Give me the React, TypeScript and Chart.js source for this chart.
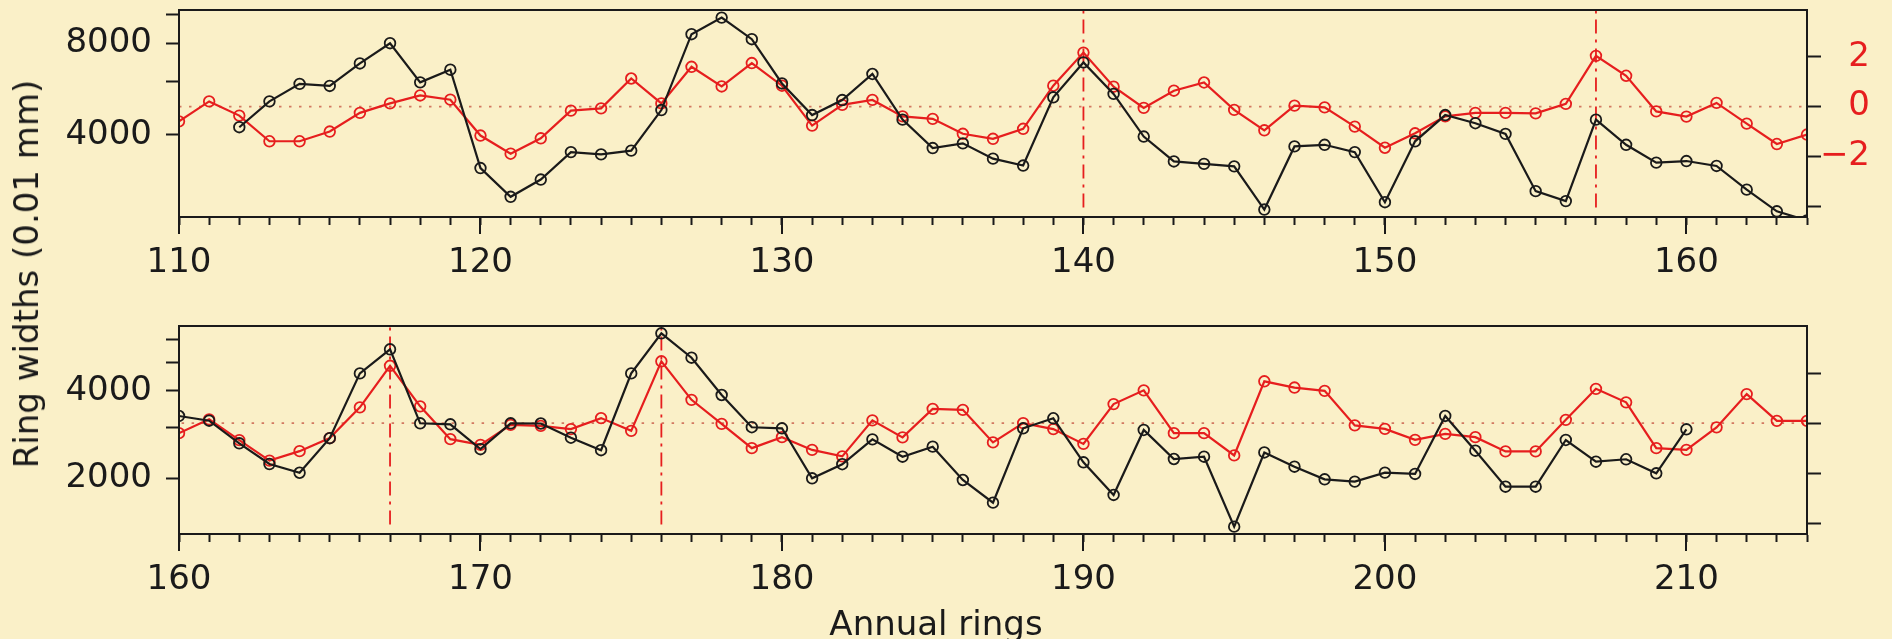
import React, { useEffect, useRef } from 'react';
import { Chart, registerables } from 'chart.js';

Chart.register(...registerables);

// ---------------- data ----------------
// Ring widths (0.01 mm), black series, one value per annual ring starting at RING_START
const RING_START = 112;
const RING_WIDTHS = [
  4240, 5160, 5890, 5800, 6880, 8020, 5960, 6560, 3110, 2500, // 112-121
  2850, 3510, 3450, 3550, 4830, 8590, 9740, 8270, 5910, 4650, // 122-131
  5210, 6350, 4490, 3620, 3750, 3340, 3170, 5320, 6930, 5460, // 132-141
  3950, 3270, 3210, 3150, 2270, 3665, 3710, 3510, 2400, 3810, // 142-151
  4650, 4370, 4030, 2610, 2420, 4490, 3710, 3240, 3280, 3160, // 152-161
  2640, 2240, 2090, 2750, 4600, 5570, 3095, 3070, 2520, 3095, // 162-171
  3090, 2760, 2500, 4600, 6325, 5210, 3875, 3000, 2975, 2000, // 172-181
  2236, 2725, 2374, 2571, 1973, 1648, 2975, 3221, 2271, 1752, // 182-191
  2935, 2331, 2374, 1362, 2455, 2193, 1984, 1947, 2092, 2070, // 192-201
  3281, 2490, 1871, 1871, 2711, 2282, 2326, 2081, 2951,       // 202-210
];

// Standardised index (right axis), red series, starting at INDEX_START
const INDEX_START = 110;
const INDEX_VALUES = [
  -0.59, 0.21, -0.36, -1.39, -1.39, -1.0, -0.25, 0.13, 0.45, 0.28, // 110-119
  -1.16, -1.89, -1.27, -0.16, -0.07, 1.13, 0.13, 1.6, 0.81, 1.75, // 120-129
  0.84, -0.76, 0.07, 0.27, -0.39, -0.49, -1.09, -1.29, -0.89, 0.84, // 130-139
  2.17, 0.8, -0.05, 0.64, 0.97, -0.13, -0.95, 0.04, -0.03, -0.8, // 140-149
  -1.65, -1.07, -0.39, -0.25, -0.25, -0.27, 0.11, 2.04, 1.24, -0.19, // 150-159
  -0.4, 0.15, -0.68, -1.5, -1.12, -0.6, 0.63, 2.29, 0.67, -0.64, // 160-169
  -0.87, -0.07, -0.11, -0.24, 0.2, -0.31, 2.47, 0.93, -0.03, -1.0, // 170-179
  -0.56, -1.07, -1.33, 0.11, -0.57, 0.57, 0.53, -0.77, 0.0, -0.24, // 180-189
  -0.83, 0.76, 1.31, -0.4, -0.4, -1.29, 1.67, 1.42, 1.29, -0.09, // 190-199
  -0.23, -0.67, -0.43, -0.56, -1.13, -1.13, 0.13, 1.37, 0.83, -1.0, // 200-209
  -1.07, -0.17, 1.16, 0.09, 0.09, // 210-214
];

// Pointer years marked by dash-dot vertical lines
const EVENT_YEARS = [140, 157, 167, 176];

// Axis ticks
const TOP_LEFT_TICKS = [4000, 6000, 8000, 10000];
const TOP_LEFT_LABELS = ['4000', '', '8000', ''];
const BOTTOM_LEFT_TICKS = [2000, 3000, 4000, 5000, 6000];
const BOTTOM_LEFT_LABELS = ['2000', '', '4000', '', ''];
const RIGHT_TICKS = [-4, -2, 0, 2];
const TOP_RIGHT_LABELS = ['', '\u22122', '0', '2'];
const BOTTOM_RIGHT_LABELS = ['', '', '', ''];

// ---------------- styling ----------------
const BG = '#FAF0C8';
const RED = '#E61E1E';
const INK = '#1a1a1a';
const FONT = "'DejaVu Sans', sans-serif";

const range = (a: number, b: number) => Array.from({ length: b - a + 1 }, (_, i) => a + i);

interface Panel {
  xMin: number;
  xMax: number;
  yMin: number;
  yMax: number;
  leftTicks: number[];
  leftLabels: string[];
  rightLabels: string[];
  padTop: number;
  xAxisHeight: number;
}

const TOP_PANEL: Panel = {
  xMin: 110, xMax: 164, yMin: 2145, yMax: 10320,
  leftTicks: TOP_LEFT_TICKS, leftLabels: TOP_LEFT_LABELS, rightLabels: TOP_RIGHT_LABELS,
  padTop: 10, xAxisHeight: 83,
};
const BOTTOM_PANEL: Panel = {
  xMin: 160, xMax: 214, yMin: 1285, yMax: 6702,
  leftTicks: BOTTOM_LEFT_TICKS, leftLabels: BOTTOM_LEFT_LABELS, rightLabels: BOTTOM_RIGHT_LABELS,
  padTop: 26, xAxisHeight: 105,
};
const R_MIN = -4.43;
const R_MAX = 3.88;

const framePlugin = {
  id: 'frame',
  afterDraw(chart: any) {
    const { ctx, chartArea } = chart;
    const xs = chart.scales.x;
    ctx.save();
    ctx.strokeStyle = INK;
    ctx.lineWidth = 2;
    ctx.strokeRect(chartArea.left, chartArea.top, chartArea.right - chartArea.left, chartArea.bottom - chartArea.top);
    // longer tick marks at the labelled (major) positions
    xs.ticks.forEach((t: any) => {
      if (t.value % 10 === 0) {
        const px = Math.round(xs.getPixelForValue(t.value));
        ctx.beginPath();
        ctx.moveTo(px, chartArea.bottom);
        ctx.lineTo(px, chartArea.bottom + 17);
        ctx.stroke();
      }
    });
    ctx.restore();
  },
};

function buildChart(canvas: HTMLCanvasElement, p: Panel) {
  const black = RING_WIDTHS.map((v, i) => ({ x: RING_START + i, y: v }));
  const red = INDEX_VALUES.map((v, i) => ({ x: INDEX_START + i, y: v }));
  const indexEnd = INDEX_START + INDEX_VALUES.length - 1;

  const datasets: any[] = [
    {
      label: 'Ring widths', data: black, yAxisID: 'y',
      borderColor: INK, borderWidth: 2.2, tension: 0,
      pointRadius: 5.3, pointBorderWidth: 1.8, pointBorderColor: INK,
      pointBackgroundColor: 'rgba(0,0,0,0)', clip: 0,
    },
    {
      label: 'Index', data: red, yAxisID: 'y1',
      borderColor: RED, borderWidth: 2.2, tension: 0,
      pointRadius: 5.3, pointBorderWidth: 1.8, pointBorderColor: RED,
      pointBackgroundColor: 'rgba(0,0,0,0)', clip: 0,
    },
    ...EVENT_YEARS.map((yr) => ({
      label: 'event ' + yr, data: [{ x: yr, y: -4.05 }, { x: yr, y: 4 }], yAxisID: 'y1',
      borderColor: RED, borderWidth: 1.8, borderDash: [14, 6, 3, 6], pointRadius: 0, clip: 0,
    })),
    {
      label: 'zero', data: [{ x: INDEX_START, y: 0 }, { x: indexEnd, y: 0 }], yAxisID: 'y1',
      borderColor: 'rgba(200,90,70,0.8)', borderWidth: 1.6, borderDash: [2.5, 7.5], pointRadius: 0, clip: 0,
    },
  ];

  return new Chart(canvas, {
    type: 'line',
    data: { datasets },
    plugins: [framePlugin],
    options: {
      animation: false,
      responsive: false,
      maintainAspectRatio: false,
      devicePixelRatio: 1,
      events: [],
      layout: { padding: { top: p.padTop, right: 22, left: 0, bottom: 0 } },
      plugins: { legend: { display: false }, tooltip: { enabled: false }, title: { display: false } },
      scales: {
        x: {
          type: 'linear', min: p.xMin, max: p.xMax, bounds: 'data',
          afterBuildTicks: (s: any) => { s.ticks = range(p.xMin, p.xMax).map((v) => ({ value: v })); },
          afterFit: (s: any) => { s.height = p.xAxisHeight; s.paddingLeft = 0; s.paddingRight = 0; },
          ticks: {
            autoSkip: false, maxRotation: 0, minRotation: 0, padding: 18, color: INK,
            font: { family: FONT, size: 34 },
            callback: (v: any) => (Number(v) % 10 === 0 ? String(v) : ''),
          },
          grid: { drawOnChartArea: false, drawTicks: true, tickLength: 8, tickWidth: 2, tickColor: INK },
          border: { display: true, color: INK, width: 2 },
        },
        y: {
          type: 'logarithmic', position: 'left', min: p.yMin, max: p.yMax, bounds: 'data',
          afterBuildTicks: (s: any) => { s.ticks = p.leftTicks.map((v) => ({ value: v })); },
          afterFit: (s: any) => { s.width = 179; s.paddingTop = 0; s.paddingBottom = 0; },
          ticks: {
            padding: 14, color: INK, font: { family: FONT, size: 34 },
            callback: (v: any) => {
              const i = p.leftTicks.indexOf(Number(v));
              return i >= 0 ? p.leftLabels[i] : '';
            },
          },
          grid: { drawOnChartArea: false, drawTicks: true, tickLength: 13, tickWidth: 2, tickColor: INK },
          border: { display: true, color: INK, width: 2 },
        },
        y1: {
          type: 'linear', position: 'right', min: R_MIN, max: R_MAX, bounds: 'data',
          afterBuildTicks: (s: any) => { s.ticks = RIGHT_TICKS.map((v) => ({ value: v })); },
          afterFit: (s: any) => { s.width = 63; s.paddingTop = 0; s.paddingBottom = 0; },
          ticks: {
            crossAlign: 'far', padding: 10, color: RED, font: { family: FONT, size: 34 },
            callback: (v: any) => {
              const i = RIGHT_TICKS.indexOf(Number(v));
              return i >= 0 ? p.rightLabels[i] : '';
            },
          },
          grid: { drawOnChartArea: false, drawTicks: true, tickLength: 14, tickWidth: 2, tickColor: INK },
          border: { display: true, color: INK, width: 2 },
        },
      },
    } as any,
  });
}

export default function App() {
  const topRef = useRef<HTMLCanvasElement | null>(null);
  const botRef = useRef<HTMLCanvasElement | null>(null);

  useEffect(() => {
    Chart.defaults.font.family = FONT;
    const c1 = topRef.current ? buildChart(topRef.current, TOP_PANEL) : null;
    const c2 = botRef.current ? buildChart(botRef.current, BOTTOM_PANEL) : null;
    return () => {
      if (c1) c1.destroy();
      if (c2) c2.destroy();
    };
  }, []);

  const textStyle: React.CSSProperties = {
    position: 'absolute', fontFamily: FONT, fontSize: 34, color: INK,
    whiteSpace: 'nowrap', lineHeight: 'normal',
  };

  return (
    <div style={{ position: 'fixed', left: 0, top: 0, width: 1892, height: 639, background: BG, overflow: 'hidden' }}>
      <canvas ref={topRef} width={1892} height={300}
        style={{ position: 'absolute', left: 0, top: 0, width: 1892, height: 300, display: 'block' }} />
      <canvas ref={botRef} width={1892} height={339}
        style={{ position: 'absolute', left: 0, top: 300, width: 1892, height: 339, display: 'block' }} />
      <div style={{ ...textStyle, left: 26, top: 274, transform: 'translate(-50%, -50%) rotate(-90deg)' }}>
        Ring widths (0.01 mm)
      </div>
      <div style={{ ...textStyle, left: 936, top: 603, transform: 'translateX(-50%)' }}>
        Annual rings
      </div>
    </div>
  );
}
